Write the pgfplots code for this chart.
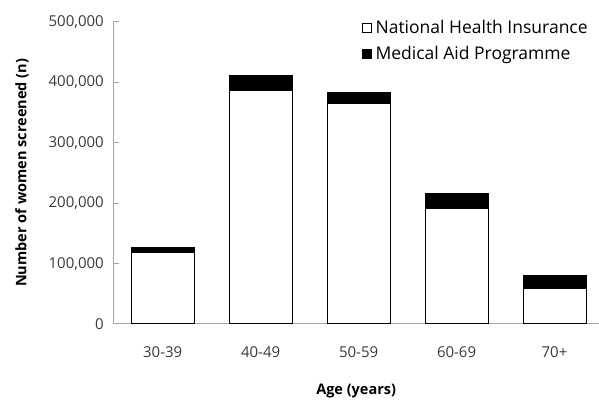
\documentclass[border=0pt]{standalone}
\usepackage{pgfplots}
\pgfplotsset{compat=1.18}
\usepackage{fontspec}
\setmainfont{Open Sans}
\definecolor{axisgray}{HTML}{A6A6A6}
\definecolor{ticktext}{HTML}{3A3A3A}
\begin{document}
\begin{tikzpicture}[x=1pt,y=1pt]
\useasboundingbox (0,0) rectangle (599,401);
\begin{axis}[
  at={(113.3pt,77pt)}, anchor=south west,
  scale only axis, width=485.7pt, height=302pt,
  ybar stacked, bar width=63pt,
  xmin=-0.504, xmax=4.454, ymin=0, ymax=500000,
  axis x line*=bottom, axis y line*=left,
  axis line style={axisgray, line width=1pt},
  ytick={0,100000,200000,300000,400000,500000},
  scaled y ticks=false,
  /pgf/number format/fixed,
  /pgf/number format/1000 sep={,},
  /pgf/number format/assume math mode=true,
  xtick={0,1,2,3,4},
  xticklabels={30-39,40-49,50-59,60-69,70+},
  x tick style={draw=none},
  y tick style={axisgray, line width=1pt},
  tick align=inside, major tick length=6pt,
  yticklabel style={font=\fontsize{15}{18}\selectfont, text=ticktext, xshift=-6pt},
  xticklabel style={font=\fontsize{15}{18}\selectfont, text=ticktext, yshift=-19pt},
  xlabel={Age (years)},
  ylabel={Number of women screened (n)},
  xlabel style={font=\fontsize{14.5}{17}\selectfont\bfseries, at={(axis description cs:0.5,-0.222)}, anchor=center},
  ylabel style={font=\fontsize{14.5}{17}\selectfont\bfseries, at={(axis description cs:-0.188,0.5)}, anchor=center},
  legend style={draw=none, fill=none, at={(axis description cs:0.511,1.012)}, anchor=north west,
    font=\fontsize{17.5}{20}\selectfont, row sep=7pt, inner sep=0pt,
    legend cell align=left},
  legend image code/.code={\draw[#1, line width=0.8pt] (0pt,-4.5pt) rectangle (9pt,4.5pt); \path (11pt,0pt);},
]
\addplot[fill=white, draw=black, line width=1pt] coordinates {(0,118700) (1,387000) (2,365000) (3,191600) (4,58000)};
\addplot[fill=black, draw=black, line width=1pt] coordinates {(0,7300) (1,24000) (2,18000) (3,24800) (4,22600)};
\legend{National Health Insurance, Medical Aid Programme}
\end{axis}
\end{tikzpicture}
\end{document}
